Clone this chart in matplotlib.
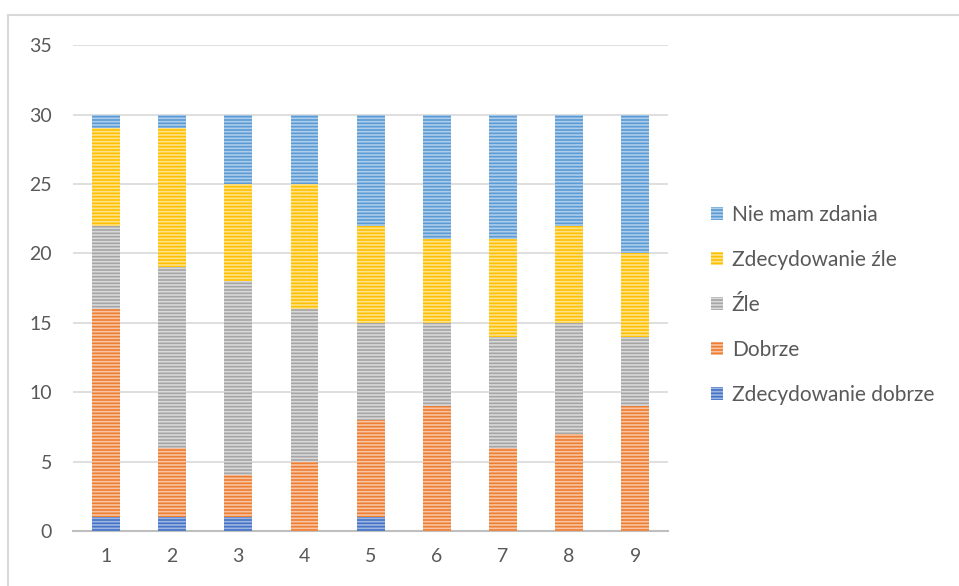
import numpy as np
import matplotlib.pyplot as plt
from matplotlib.lines import Line2D

categories = ["1", "2", "3", "4", "5", "6", "7", "8", "9"]
zdecydowanie_dobrze = [1, 1, 1, 0, 1, 0, 0, 0, 0]
dobrze = [15, 5, 3, 5, 7, 9, 6, 7, 9]
zle = [6, 13, 14, 11, 7, 6, 8, 8, 5]
zdecydowanie_zle = [7, 10, 7, 9, 7, 6, 7, 7, 6]
nie_mam_zdania = [1, 1, 5, 5, 8, 9, 9, 8, 10]

series = [
    ("Zdecydowanie dobrze", zdecydowanie_dobrze, "#4472C4", "#9db5e2"),
    ("Dobrze", dobrze, "#ED7D31", "#f8c4a2"),
    ("Źle", zle, "#A5A5A5", "#d9d9d9"),
    ("Zdecydowanie źle", zdecydowanie_zle, "#FFC000", "#ffe28a"),
    ("Nie mam zdania", nie_mam_zdania, "#5B9BD5", "#aecdea"),
]

plt.rcParams['font.family'] = ['Lato', 'DejaVu Sans']
plt.rcParams['hatch.linewidth'] = 1.2

fig = plt.figure(figsize=(9.59, 5.86), dpi=100)
ax = fig.add_axes([0.076, 0.094, 0.621, 0.829])

x = np.arange(len(categories))
bottom = np.zeros(len(categories))
handles = []
for name, vals, col, light in series:
    vals = np.array(vals, dtype=float)
    b = ax.bar(x, vals, 0.42, bottom=bottom, color=col, edgecolor=light,
               linewidth=0, hatch="-----", label=name, zorder=3)
    handles.append(b)
    bottom += vals

ax.set_ylim(0, 35)
ax.set_yticks(range(0, 36, 5))
ax.set_xlim(-0.5, len(categories) - 0.5)
ax.set_xticks(x)
ax.set_xticklabels(categories)
ax.yaxis.grid(True, color="#d9d9d9", linewidth=1.2, zorder=0)
ax.tick_params(axis="both", length=0, labelsize=14, colors="#595959")
ax.tick_params(axis="x", pad=12)
ax.tick_params(axis="y", pad=15)
for s in ["top", "right", "left"]:
    ax.spines[s].set_visible(False)
ax.spines["bottom"].set_color("#bfbfbf")
ax.spines["bottom"].set_linewidth(1.5)

leg = ax.legend(handles[::-1], [s[0] for s in series][::-1],
                loc="center left", bbox_to_anchor=(1.04, 0.465), frameon=False,
                fontsize=15, labelspacing=1.2, handlelength=0.6,
                handleheight=0.6, handletextpad=0.4)
for t in leg.get_texts():
    t.set_color("#595959")

# chart frame
fig.add_artist(Line2D([8 / 959, 1], [1 - 15 / 586, 1 - 15 / 586], color="#d9d9d9", lw=1.5))
fig.add_artist(Line2D([8 / 959, 8 / 959], [0, 1 - 15 / 586], color="#d9d9d9", lw=1.5))

fig.savefig("out.png", dpi=100)
